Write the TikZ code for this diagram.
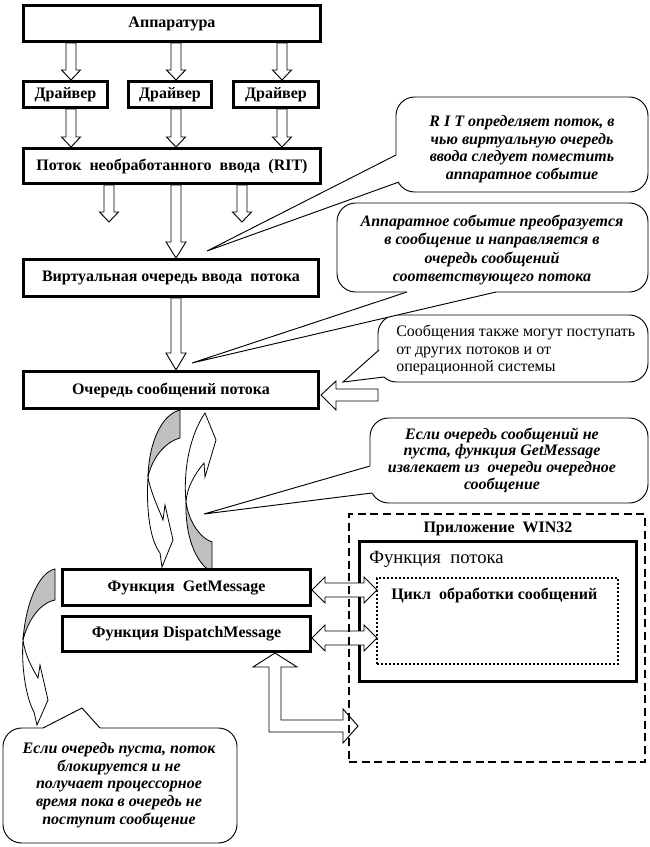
\documentclass[tikz,border=0pt]{standalone}
\usepackage{fontspec}
\setmainfont{Liberation Serif}
\definecolor{shade}{RGB}{192,192,192}
\newcommand\vblk[5]{\draw[blk] (#1-5,#2) -- (#1-5,#3) -- (#1-#5,#3) -- (#1,#4) -- (#1+#5,#3) -- (#1+5,#3) -- (#1+5,#2) -- cycle;}
\newcommand\hdbl[1]{\draw[blk] (312,#1) -- (325,#1-13) -- (325,#1-7) -- (364,#1-7) -- (364,#1-13) -- (377,#1) -- (364,#1+13) -- (364,#1+7) -- (325,#1+7) -- (325,#1+13) -- cycle;}
\begin{document}
\begin{tikzpicture}[x=0.75pt,y=-0.75pt,
 box/.style={draw,line width=2.2pt,fill=white,inner sep=0pt,font=\bfseries\fontsize{12}{14}\selectfont},
 blk/.style={draw,fill=white,line width=0.7pt,line join=miter},
 curv/.style={draw,fill=white,line width=0.6pt},
 curvg/.style={draw,fill=shade,line width=0.6pt},
 callout/.style={draw,fill=white,line width=0.7pt,rounded corners=14pt},
 pointer/.style={draw,line width=0.7pt},
 ctext/.style={font=\bfseries\itshape\fontsize{12}{13.2}\selectfont,align=center,inner sep=0pt},
 plain/.style={font=\fontsize{12}{13.1}\selectfont,align=left,inner sep=0pt},
 lbl/.style={font=\bfseries\fontsize{12}{14}\selectfont,inner sep=0pt},
]
\useasboundingbox (0,0) rectangle (650,847);
\fill[white] (0,0) rectangle (650,847);

% ---- curved arrows (under boxes)
\filldraw[curv] (205,413) -- (216,440) -- (205,477) -- (204,463) .. controls (194,475) and (187,488) .. (186,502) .. controls (183,470) and (190,435) .. (205,413) -- cycle;
\filldraw[curvg] (186,502) .. controls (189,522) and (200,538) .. (212,542) -- (212,572) .. controls (195,563) and (185,535) .. (186,502) -- cycle;
\filldraw[curvg] (180,410) -- (180,438) .. controls (165,442) and (152,458) .. (148,477) .. controls (149,440) and (163,414) .. (180,410) -- cycle;
\filldraw[curv] (148,477) .. controls (146,510) and (150,540) .. (160,553) -- (162,567) -- (173,540) -- (165,505) -- (163,520) .. controls (157,505) and (150,490) .. (148,477) -- cycle;
\filldraw[curvg] (55,569) -- (55,600) .. controls (40,603) and (28,620) .. (23,640) .. controls (26,600) and (40,572) .. (55,569) -- cycle;
\filldraw[curv] (23,640) .. controls (21,670) and (27,700) .. (34,712) -- (37,725) -- (48,700) -- (40,665) -- (38,678) .. controls (32,668) and (25,655) .. (23,640) -- cycle;

% ---- vertical block arrows
\vblk{71}{43}{70}{80}{9.5}
\vblk{176}{43}{70}{80}{9.5}
\vblk{282}{43}{70}{80}{9.5}
\vblk{71}{109}{137}{147}{9.5}
\vblk{176}{109}{137}{147}{9.5}
\vblk{282}{109}{137}{147}{9.5}
\vblk{109}{185}{212}{222}{9.5}
\vblk{176}{185}{242}{258}{10}
\vblk{242}{185}{212}{222}{9.5}
\vblk{176}{298}{353}{370}{10}

% left arrow into message queue
\draw[blk] (378,389) -- (336,389) -- (336,381) -- (321,395) -- (336,410) -- (336,401) -- (378,401) -- cycle;

% ---- boxes
\node[box,minimum width=223pt,minimum height=27.25pt] (hw) at (172,23.5) {Аппаратура};
\node[box,minimum width=63.25pt,minimum height=19.75pt] (d1) at (65.5,94.5) {Драйвер};
\node[box,minimum width=62.5pt,minimum height=19.75pt] (d2) at (170,94.5) {Драйвер};
\node[box,minimum width=64pt,minimum height=19.75pt] (d3) at (276,94.5) {Драйвер};
\node[box,minimum width=223pt,minimum height=26.5pt] (rit) at (172,166) {Поток\ \ необработанного\ \ ввода\ \ (RIT)};
\node[box,minimum width=221.5pt,minimum height=28pt] (vq) at (171,278) {Виртуальная очередь ввода\ \ потока};
\node[box,minimum width=221.5pt,minimum height=28pt] (mq) at (171,390) {Очередь сообщений потока};

% ---- application area
\node[draw,line width=2.2pt,fill=white,inner sep=0pt,minimum width=208pt,minimum height=105.25pt] (fn) at (498,611.5) {};
\node[draw,line width=1.5pt,dash pattern=on 1.2pt off 1.8pt,inner sep=0pt,minimum width=180.75pt,minimum height=64.5pt] (loop) at (497.5,621) {};
\node[anchor=west,font=\fontsize{14}{16}\selectfont,inner sep=0pt] (fnl) at (369,559) {Функция\ \ потока};
\node[anchor=west,lbl] (loopl) at (391,595) {Цикл\ \ обработки сообщений};

\hdbl{590}
\hdbl{638}
\draw[blk] (275,653) -- (297,667) -- (281,667) -- (281,720) -- (343,720) -- (343,709) -- (358,726) -- (343,743) -- (343,732) -- (269,732) -- (269,667) -- (253,667) -- cycle;

\node[box,minimum width=186.25pt,minimum height=27.25pt] (gm) at (186.5,587.5) {Функция\ \ GetMessage};
\node[box,minimum width=186.25pt,minimum height=26.5pt] (dm) at (186.5,634) {Функция DispatchMessage};

\node[draw,line width=1.5pt,dash pattern=on 6pt off 3.5pt,inner sep=0pt,minimum width=222pt,minimum height=186pt] (app) at (497,638) {};
\node[lbl] (appl) at (498,529) {Приложение\ \ WIN32};

% ---- callouts
\draw[callout] (370,418) rectangle (648,503);
\fill[white] (370,466) -- (204,514) -- (372,493) -- (378,493) -- (378,466) -- cycle;
\draw[pointer] (370,466) -- (204,514) -- (372,493);
\node[ctext,font=\bfseries\itshape\fontsize{12}{12.5}\selectfont] (c4) at (502,460) {Если очередь сообщений не\\пуста, функция GetMessage\\извлекает из\ \ очереди очередное\\сообщение};

\draw[callout] (378,315) rectangle (648,382);
\fill[white] (379,350) -- (343,382) -- (384,377) -- (390,370) -- (390,350) -- cycle;
\draw[pointer] (379,350) -- (343,382) -- (384,377);
\node[plain,anchor=west] (c3) at (396,350) {Сообщения также\ могут поступать\\от других потоков и от\\операционной системы};

\draw[callout] (337,203) rectangle (648,292);
\fill[white] (407,292) -- (192,363) -- (496,292) -- (496,286) -- (407,286) -- cycle;
\draw[pointer] (407,292) -- (192,363) -- (496,292);
\node[ctext,font=\bfseries\itshape\fontsize{12}{13.9}\selectfont] (c2) at (492,250) {Аппаратное событие преобразуется\\в сообщение и направляется в\\очередь сообщений\\соответствующего потока};

\draw[callout] (396,97) rectangle (648,192);
\fill[white] (396,155) -- (207,251) -- (399,182) -- (406,182) -- (406,155) -- cycle;
\draw[pointer] (396,155) -- (207,251) -- (399,182);
\node[ctext] (c1) at (522,149) {R I T определяет поток, в\\чью виртуальную очередь\\ввода следует поместить\\аппаратное событие};

\draw[callout] (3,728) rectangle (237,843);
\fill[white] (43,728) -- (82,708) -- (100,728) -- (100,734) -- (43,734) -- cycle;
\draw[pointer] (43,728) -- (82,708) -- (100,728);
\node[ctext] (c5) at (119,785) {Если очередь пуста, поток\\блокируется и не\\получает процессорное\\время пока в очередь не\\поступит сообщение};
\end{tikzpicture}
\end{document}
